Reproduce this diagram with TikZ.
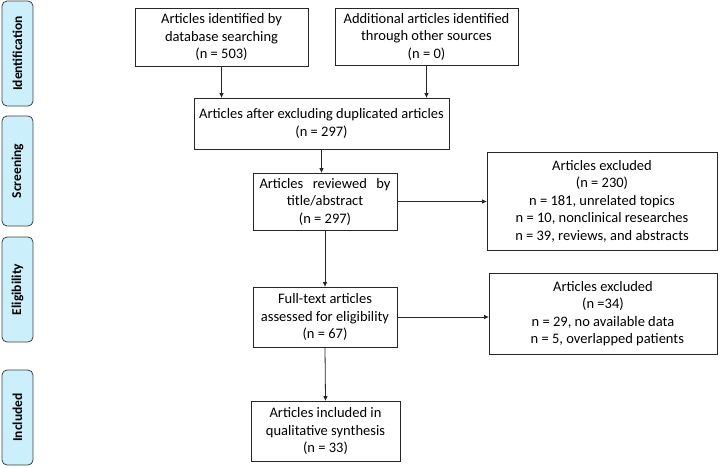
\documentclass[tikz,border=0pt]{standalone}
\usepackage{fontspec}
\setmainfont{Carlito}
\usetikzlibrary{arrows.meta}
\tikzset{
  box/.style={draw=black!85, line width=0.8pt, align=center, inner sep=2pt,
    font=\fontsize{14.5}{17.5}\selectfont, fill=white},
  side/.style={draw=black!75, line width=0.8pt, rounded corners=5pt, fill=cyan!20,
    minimum width=31pt, inner sep=0pt, font=\bfseries\fontsize{13.5}{15}\selectfont},
  arr/.style={line width=0.8pt, draw=black!85, -{Triangle[length=4.5pt,width=4pt]}}
}
\begin{document}
\begin{tikzpicture}[x=1pt,y=-1pt]
\useasboundingbox (0,0) rectangle (720,467);
% side labels
\node[side, minimum height=105pt] (s1) at (17.5,53.5) {\rotatebox{90}{Identification}};
\node[side, minimum height=110pt] (s2) at (17.5,171) {\rotatebox{90}{Screening}};
\node[side, minimum height=105pt] (s3) at (17.5,289.5) {\rotatebox{90}{Eligibility}};
\node[side, minimum height=95pt] (s4) at (17.5,417.5) {\rotatebox{90}{Included}};
% boxes
\node[box, minimum width=173pt, minimum height=58pt] (A) at (221.5,37)
  {Articles identified by\\database searching\\(n = 503)};
\node[box, minimum width=183pt, minimum height=57pt] (B) at (426.5,36.5)
  {Additional articles identified\\through other sources\\(n = 0)};
\node[box, minimum width=255pt, minimum height=51pt] (C) at (321.5,123.5)
  {Articles after excluding duplicated articles\\(n = 297)};
\node[box, minimum width=144pt, minimum height=57pt] (D) at (325,201.5)
  {\makebox[131pt][s]{Articles reviewed by}\\title/abstract\\(n = 297)};
\node[box, minimum width=230pt, minimum height=98pt] (E) at (602,201)
  {Articles excluded\\(n = 230)\\n = 181, unrelated topics\\n = 10, nonclinical researches\\n = 39, reviews, and abstracts};
\node[box, minimum width=144pt, minimum height=60pt] (F) at (325,317)
  {Full-text articles\\assessed for eligibility\\(n = 67)};
\node[box, minimum width=228pt, minimum height=81pt] (G) at (603,313.5)
  {Articles excluded\\(n =34)\\n = 29, no available data\\\hspace{0.6em}n = 5, overlapped patients};
\node[box, minimum width=149pt, minimum height=60pt] (H) at (325.5,431)
  {Articles included in\\qualitative synthesis\\(n = 33)};
% connectors
\draw[arr] (A.south) -- (A.south |- C.north);
\draw[arr] (B.south) -- (B.south |- C.north);
\draw[arr] (C.south) -- (C.south |- D.north);
\draw[arr] (D.east) -- (D.east -| E.west);
\draw[arr] (D.south) -- (F.north);
\draw[arr] (F.east) -- (F.east -| G.west);
\draw[arr] (F.south) -- (H.north);
\end{tikzpicture}
\end{document}
